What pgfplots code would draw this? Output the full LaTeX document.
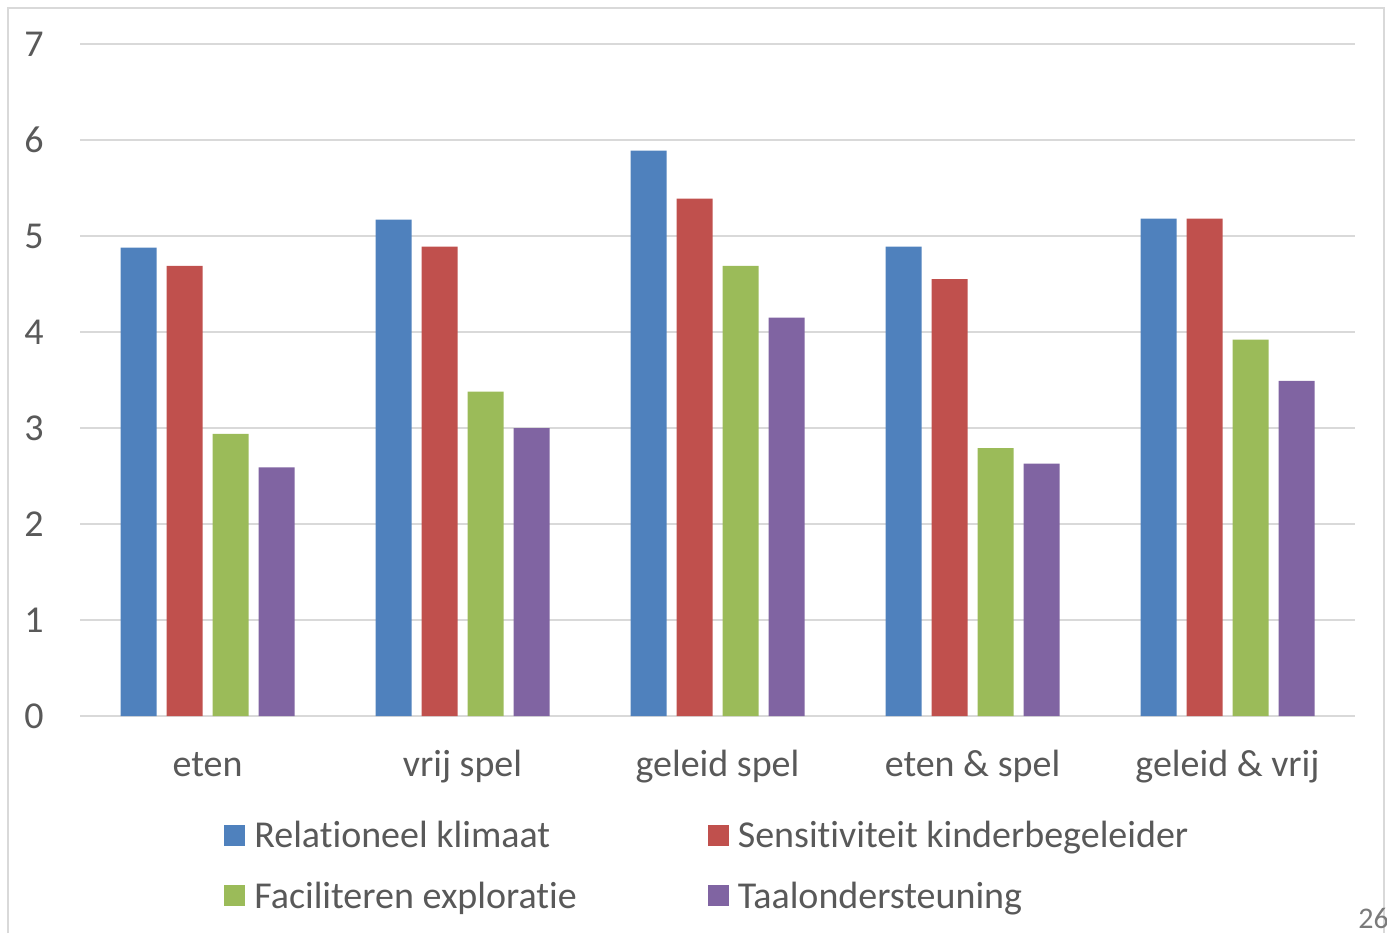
\documentclass[border=0pt]{standalone}
\usepackage{fontspec}
\setmainfont{Carlito}[Ligatures=NoCommon]
\usepackage{pgfplots}
\pgfplotsset{compat=1.18}

\newlength\px
\setlength\px{0.5pt}

\definecolor{cblue}{HTML}{4F81BD}
\definecolor{cred}{HTML}{C0504D}
\definecolor{cgreen}{HTML}{9BBB59}
\definecolor{cpurple}{HTML}{8064A2}
\definecolor{textgray}{HTML}{595959}
\definecolor{gridgray}{HTML}{D9D9D9}

\begin{document}
\begin{tikzpicture}
\path[use as bounding box] (0,0) rectangle (1387\px,933\px);
% slide frame and page number
\draw[gridgray, line width=2\px] (8\px,0) -- (8\px,925\px) -- (1384\px,925\px) -- (1384\px,0);
\node[anchor=base west, inner sep=0pt, font=\fontsize{15}{18}\selectfont, text=textgray!80] at (1358\px,5\px) {26};

\begin{axis}[
    at={(80\px,217\px)}, anchor=south west,
    scale only axis,
    width=1275\px, height=672\px,
    ybar=10\px, bar width=36\px,
    xmin=-0.5, xmax=4.5,
    ymin=0, ymax=7,
    xtick=data,
    xticklabels={eten, vrij spel, geleid spel, eten \& spel, geleid \& vrij},
    ytick={0,...,7},
    ymajorgrids,
    grid style={draw=gridgray, line width=2\px},
    axis line style={draw=none},
    major tick length=0pt,
    tick label style={font=\fontsize{19}{23}\selectfont, text=textgray},
    /pgf/number format/assume math mode=true,
    yticklabel style={inner sep=0pt, xshift=-36\px},
    xticklabel style={anchor=base, inner sep=0pt, yshift=-60\px},
    legend columns=2,
    legend cell align=left,
    legend image code/.code={\fill[#1,draw=none] (0,-10\px) rectangle (21\px,11\px);},
    legend style={
        at={(0.1129,-0.1503)}, anchor=north west,
        draw=none, fill=none, inner sep=0pt,
        font=\fontsize{19}{23}\selectfont, text=textgray,
        row sep=23\px,
        /tikz/column 1/.style={column sep=5\px},
        /tikz/column 2/.style={column sep=127\px},
        /tikz/column 3/.style={column sep=5\px},
    },
]
\addplot[fill=cblue, draw=none] coordinates {(0,4.88) (1,5.17) (2,5.89) (3,4.89) (4,5.18)};
\addplot[fill=cred, draw=none] coordinates {(0,4.69) (1,4.89) (2,5.39) (3,4.55) (4,5.18)};
\addplot[fill=cgreen, draw=none] coordinates {(0,2.94) (1,3.38) (2,4.69) (3,2.79) (4,3.92)};
\addplot[fill=cpurple, draw=none] coordinates {(0,2.59) (1,3.00) (2,4.15) (3,2.63) (4,3.49)};
\legend{Relationeel klimaat, Sensitiviteit kinderbegeleider, Faciliteren exploratie, Taalondersteuning}
\end{axis}
\end{tikzpicture}
\end{document}
